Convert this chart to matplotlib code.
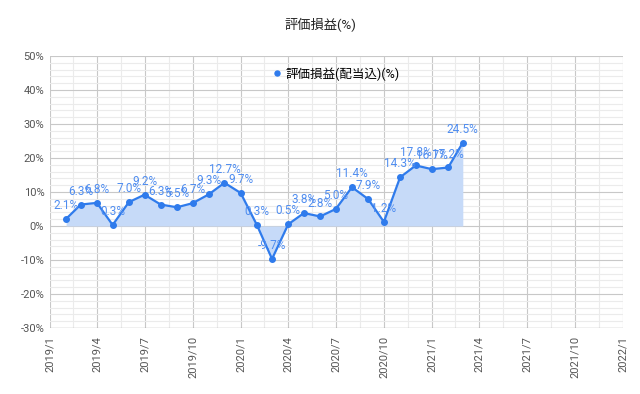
import matplotlib
matplotlib.use("Agg")
import matplotlib.pyplot as plt
from matplotlib.ticker import MultipleLocator, FuncFormatter
from datetime import datetime

plt.rcParams['font.family'] = ['Roboto', 'Noto Sans CJK JP', 'DejaVu Sans']

months = ["2019/2", "2019/3", "2019/4", "2019/5", "2019/6", "2019/7", "2019/8",
          "2019/9", "2019/10", "2019/11", "2019/12", "2020/1", "2020/2", "2020/3",
          "2020/4", "2020/5", "2020/6", "2020/7", "2020/8", "2020/9", "2020/10",
          "2020/11", "2020/12", "2021/1", "2021/2", "2021/3"]
values = [2.1, 6.3, 6.8, 0.3, 7.0, 9.2, 6.3, 5.5, 6.7, 9.3, 12.7, 9.7, 0.3, -9.7,
          0.5, 3.8, 2.8, 5.0, 11.4, 7.9, 1.2, 14.3, 17.8, 16.7, 17.2, 24.5]
tick_labels = ["2019/1", "2019/4", "2019/7", "2019/10", "2020/1", "2020/4", "2020/7",
               "2020/10", "2021/1", "2021/4", "2021/7", "2021/10", "2022/1"]

dates = [datetime.strptime(m, "%Y/%m") for m in months]
tick_dates = [datetime.strptime(t, "%Y/%m") for t in tick_labels]

line_color = "#2f7bec"
label_color = "#4f8df0"
fill_color = "#c6daf8"

fig = plt.figure(figsize=(6.4, 3.94), dpi=100)
ax = fig.add_axes([0.078, 0.1675, 0.895, 0.6905])

ax.fill_between(dates, values, 0, color=fill_color, linewidth=0, zorder=2)
ax.plot(dates, values, color=line_color, linewidth=1.6, marker="o", markersize=4,
        zorder=3, label="評価損益(配当込)(%)")
for d, v in zip(dates, values):
    ax.annotate(f"{v:.1f}%", (d, v), xytext=(0, 5), textcoords="offset points",
                ha="center", va="bottom", fontsize=8.5, color=label_color, zorder=4)

ax.set_ylim(-30, 50)
ax.yaxis.set_major_locator(MultipleLocator(10))
ax.yaxis.set_minor_locator(MultipleLocator(2))
ax.yaxis.set_major_formatter(FuncFormatter(lambda y, p: f"{y:.0f}%"))

ax.set_xlim(tick_dates[0], tick_dates[-1])
ax.set_xticks(tick_dates)
ax.set_xticklabels(tick_labels, rotation=90)
minor = [tick_dates[i] + (tick_dates[i + 1] - tick_dates[i]) / 2 for i in range(len(tick_dates) - 1)]
ax.set_xticks(minor, minor=True)

ax.grid(which="major", color="#c8c8c8", linewidth=0.8, zorder=0)
ax.grid(which="minor", color="#ebebeb", linewidth=0.8, zorder=0)
ax.set_axisbelow(True)
ax.tick_params(which="both", length=0, labelsize=8, colors="#555555", pad=4)
ax.tick_params(axis="x", pad=6)
for s in ax.spines.values():
    s.set_visible(False)
ax.axhline(-30, color="#333333", linewidth=0.8, zorder=1)

fig.suptitle("評価損益(%)", y=0.955, fontsize=9.5, color="#222222")
leg = ax.legend(loc="upper center", bbox_to_anchor=(0.5, 1.0), frameon=False,
                fontsize=9, handlelength=0.6, handletextpad=0.4, markerscale=0.9)
for h in leg.get_lines():
    h.set_linestyle("")

fig.savefig("out.png", dpi=100)
